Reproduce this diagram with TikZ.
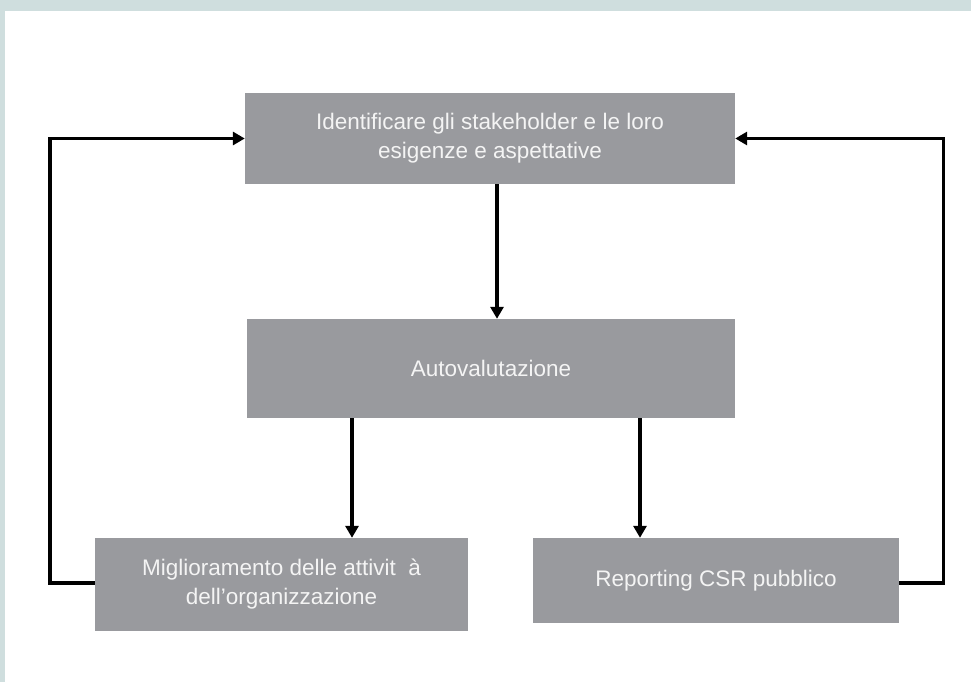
\documentclass[tikz,border=0pt]{standalone}
\usepackage{fontspec}
\setmainfont{Liberation Sans}
\usetikzlibrary{arrows.meta}
\definecolor{bordercol}{HTML}{CFDEDE}
\definecolor{boxgrey}{HTML}{999A9E}
\definecolor{txtcol}{HTML}{F4F4F4}
\tikzset{
  stepbox/.style={rectangle, fill=boxgrey, draw=none, inner sep=0pt, align=center,
    text=txtcol, font=\fontsize{22.5}{29}\selectfont},
  arr/.style={line width=3.4pt, -{Triangle[length=12pt,width=13pt]}, line join=miter},
}
\begin{document}
\begin{tikzpicture}[x=1pt,y=-1pt]
\useasboundingbox (0,0) rectangle (971,682);
\fill[bordercol] (0,0) rectangle (971,682);
\fill[white] (5,11) rectangle (971,682);
\node[stepbox, minimum width=490pt, minimum height=91pt] (top) at (490,138.5)
  {Identificare gli stakeholder e le loro\\esigenze e aspettative};
\node[stepbox, minimum width=488pt, minimum height=99pt] (mid) at (491,368.5)
  {Autovalutazione};
\node[stepbox, minimum width=373pt, minimum height=93pt] (lb) at (281.5,584.5)
  {Miglioramento delle attivit\ \ à\\dell’organizzazione};
\node[stepbox, minimum width=366pt, minimum height=85pt] (rb) at (716,580.5)
  {Reporting CSR pubblico};
\draw[arr] ([xshift=7pt]top.south) -- ([xshift=6pt]mid.north);
\draw[arr] ([xshift=-139pt]mid.south) -- ([xshift=70.5pt]lb.north);
\draw[arr] ([xshift=149pt]mid.south) -- ([xshift=-76pt]rb.north);
\draw[arr] ([yshift=1.5pt]lb.west) -- ++(-45,0) |- (top.west);
\draw[arr] ([yshift=-2.5pt]rb.east) -- ++(44,0) |- (top.east);
\end{tikzpicture}
\end{document}
